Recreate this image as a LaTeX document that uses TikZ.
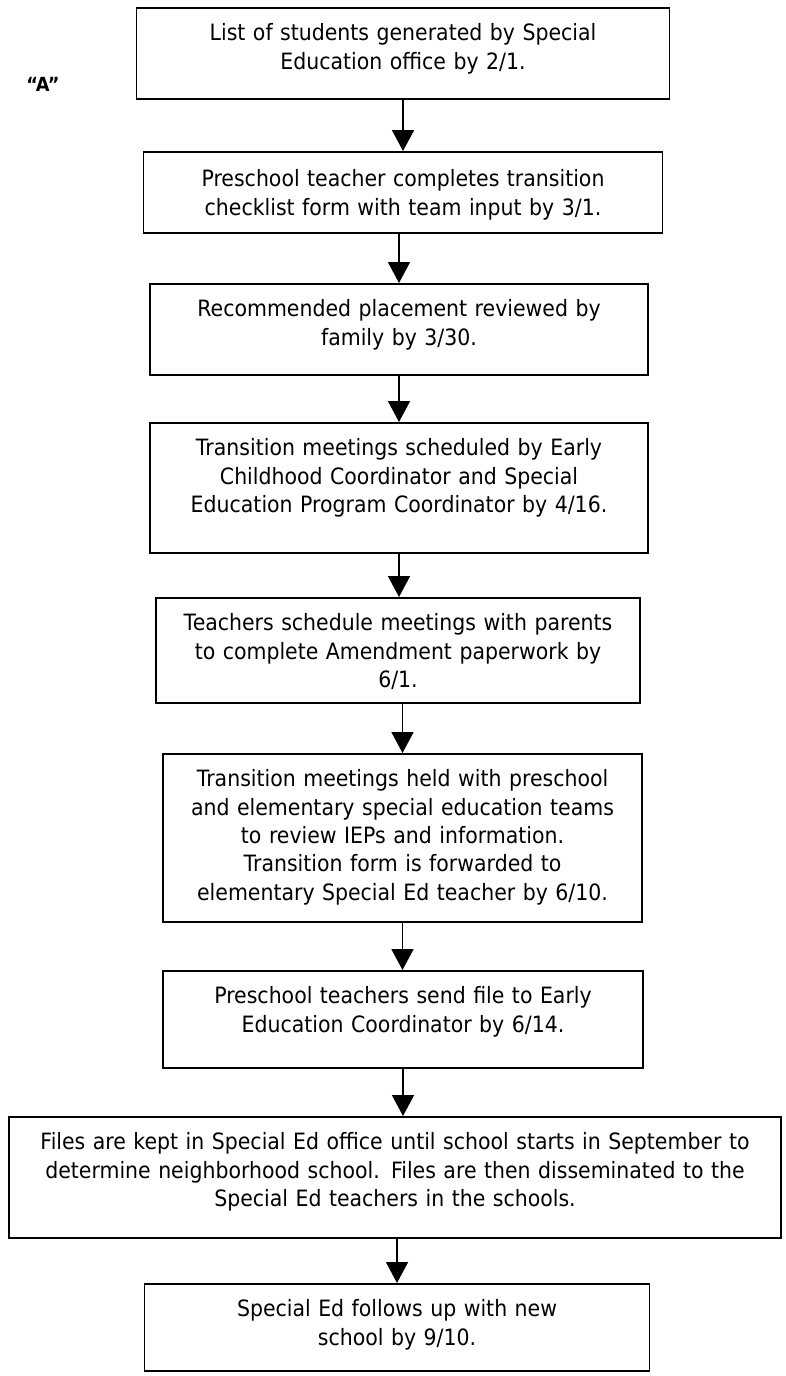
\documentclass[tikz,border=0pt]{standalone}
\usepackage{fontspec}
\setmainfont{DejaVu Sans}[FakeStretch=0.91]
\usetikzlibrary{arrows.meta}
\tikzset{stepbox/.style={draw, line width = 1.8pt, align = center, anchor = north, inner xsep = 6pt, inner ysep = 8pt, text height = 25pt, font = \fontsize{22.5}{28.3}\selectfont}}
\tikzset{flow/.style={line width = 1.8pt, -{Triangle[width = 22pt, length = 21pt]}}}

\begin{document}
\begin{tikzpicture}[x = 1pt, y = -1pt]
				\useasboundingbox (0,0) rectangle (785,1376);
				\node (tag)[font = \fontsize{19.5}{24}\selectfont\bfseries] at (43,84){“A”};
				%
				\node (b1)[stepbox, minimum width = 533, text width = 520, text depth = 50] at (403,7){List of students generated by Special\\Education office by 2/1.};
				\node (b2)[stepbox, minimum width = 519, text width = 505, text height = 27pt, text depth = 38] at (403,151){Preschool teacher completes transition\\checklist form with team input by 3/1.};
				\node (b3)[stepbox, minimum width = 498, text width = 485, text depth = 50] at (399,283){Recommended placement reviewed by\\family by 3/30.};
				\node (b4)[stepbox, minimum width = 498, text width = 485, text depth = 89] at (399,422){Transition meetings scheduled by Early\\Childhood Coordinator and Special\\Education Program Coordinator by 4/16.};
				\node (b5)[stepbox, minimum width = 484, text width = 470, text depth = 64] at (398,597){Teachers schedule meetings with parents\\to complete Amendment paperwork by\\6/1.};
				\node (b6)[stepbox, minimum width = 479, text width = 465, text depth = 127] at (402.5,753){Transition meetings held with preschool\\and elementary special education teams\\to review IEPs and information.\\Transition form is forwarded to\\elementary Special Ed teacher by 6/10.};
				\node (b7)[stepbox, minimum width = 480, text width = 466, text depth = 56] at (403,970){Preschool teachers send file to Early\\Education Coordinator by 6/14.};
				\node (b8)[stepbox, minimum width = 770, text width = 760, text depth = 80] at (395,1116){Files are kept in Special Ed office until school starts in September to\\determine neighborhood school. Files are then disseminated to the\\Special Ed teachers in the schools.};
				\node (b9)[stepbox, minimum width = 505, text width = 490, text depth = 46] at (397,1283){Special Ed follows up with new\\school by 9/10.};
				%
				\draw[flow] (b1.south) -- (b1.south |- b2.north);
				\draw[flow] (b2.south -| b3.north) -- (b3.north);
				\draw[flow] (b3.south) -- (b4.north);
				\draw[flow] (b4.south) -- (b4.south |- b5.north);
				\draw[flow] (b5.south -| b6.north) -- (b6.north);
				\draw[flow] (b6.south) -- (b6.south |- b7.north);
				\draw[flow] (b7.south) -- (b7.south |- b8.north);
				\draw[flow] (b8.south -| b9.north) -- (b9.north);
			\end{tikzpicture}
\end{document}
